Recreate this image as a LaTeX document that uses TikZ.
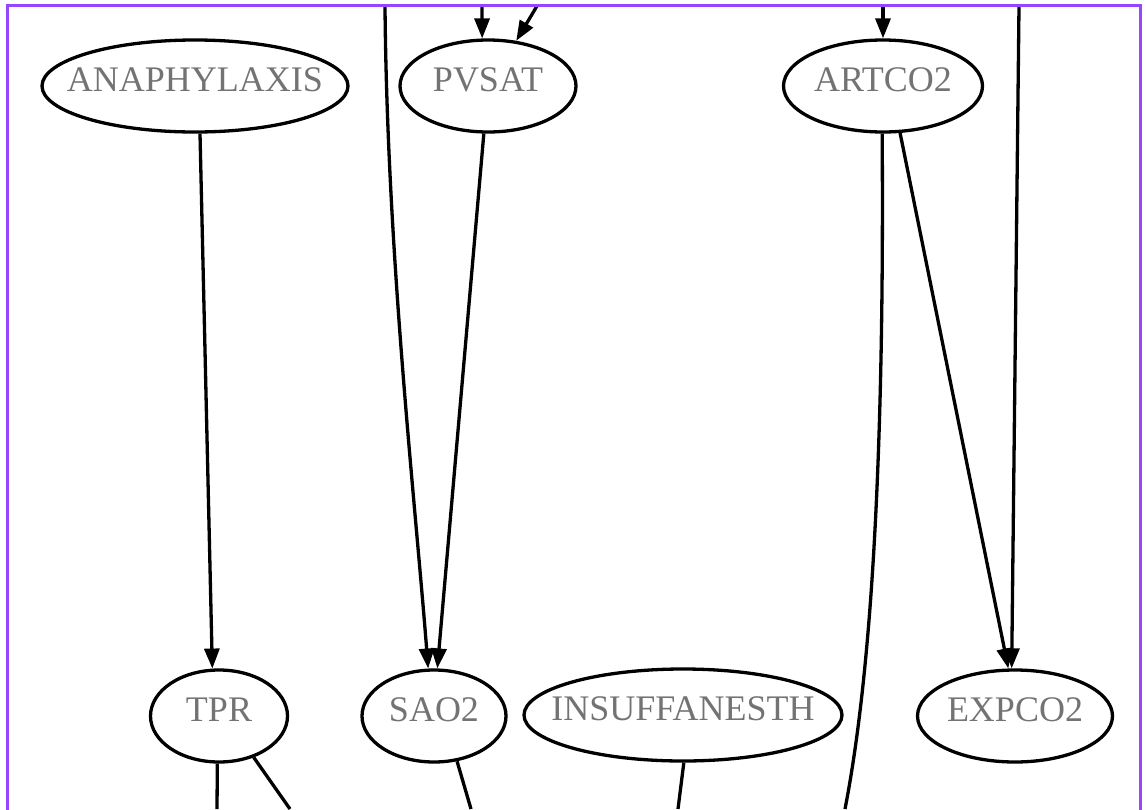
\documentclass[tikz,border=0pt]{standalone}
\usepackage{fontspec}
\setmainfont{Liberation Serif}
\usetikzlibrary{shapes.geometric,arrows.meta}
\definecolor{framepurple}{RGB}{150,70,255}
\definecolor{labelgray}{RGB}{115,115,115}
\newcommand{\varlabel}[1]{\makebox[0pt]{#1}}
\tikzset{
  var/.style={draw=black, line width=3.3pt, ellipse, inner sep=0pt,
    minimum height=92pt, text depth=12pt,
    font=\fontsize{36}{40}\selectfont, text=labelgray},
  link/.style={draw=black, line width=3.3pt},
  arc/.style={link, -{Triangle[length=20pt,width=15pt]}},
}
\begin{document}
\begin{tikzpicture}[x=1pt,y=-1pt]
\useasboundingbox (0,0) rectangle (1146,809);

% variables
\node[var, minimum width=306pt] (anaph) at (195,86)  {\varlabel{ANAPHYLAXIS}};
\node[var, minimum width=176pt] (pvsat) at (488,86)  {\varlabel{PVSAT}};
\node[var, minimum width=199pt] (artco) at (883,86)  {\varlabel{ARTCO2}};
\node[var, minimum width=137pt] (tpr)   at (219,716) {\varlabel{TPR}};
\node[var, minimum width=144pt] (sao)   at (434,716) {\varlabel{SAO2}};
\node[var, minimum width=318pt] (insuf) at (683,715) {\varlabel{INSUFFANESTH}};
\node[var, minimum width=195pt] (expco) at (1015,716) {\varlabel{EXPCO2}};

% loose ends of edges leaving the visible part
\coordinate (inL)   at (385,6);
\coordinate (inP1)  at (482,6);
\coordinate (inP2)  at (537,6);
\coordinate (inA)   at (883,6);
\coordinate (inE)   at (1019,6);
\coordinate (outT1) at (217,809);
\coordinate (outT2) at (290,809);
\coordinate (outS)  at (471,809);
\coordinate (outI)  at (678,809);
\coordinate (outA)  at (845,809);

% edges
\draw[arc] (inP1) -- (pvsat.97);
\draw[arc] (inP2) -- (pvsat.58);
\draw[arc] (inA) -- (artco.90);
\draw[arc] (anaph.-84) -- (tpr.98);
\draw[arc] (inL) .. controls (387,250) and (415,500) .. (sao.97);
\draw[arc] (pvsat.-95) -- (sao.86);
\draw[arc] (artco.-70) -- (expco.98);
\draw[arc] (inE) -- (expco.94);
\draw[link] (artco.-91) .. controls (884,400) and (876,650) .. (outA);
\draw[link] (tpr.-92) -- (outT1);
\draw[link] (tpr.-50) -- (outT2);
\draw[link] (sao.-63) -- (outS);
\draw[link] (insuf.-89) -- (outI);

% frame
\draw[framepurple, line width=3pt] (7,812) -- (7,5) -- (1140,5) -- (1140,812);
\end{tikzpicture}
\end{document}
